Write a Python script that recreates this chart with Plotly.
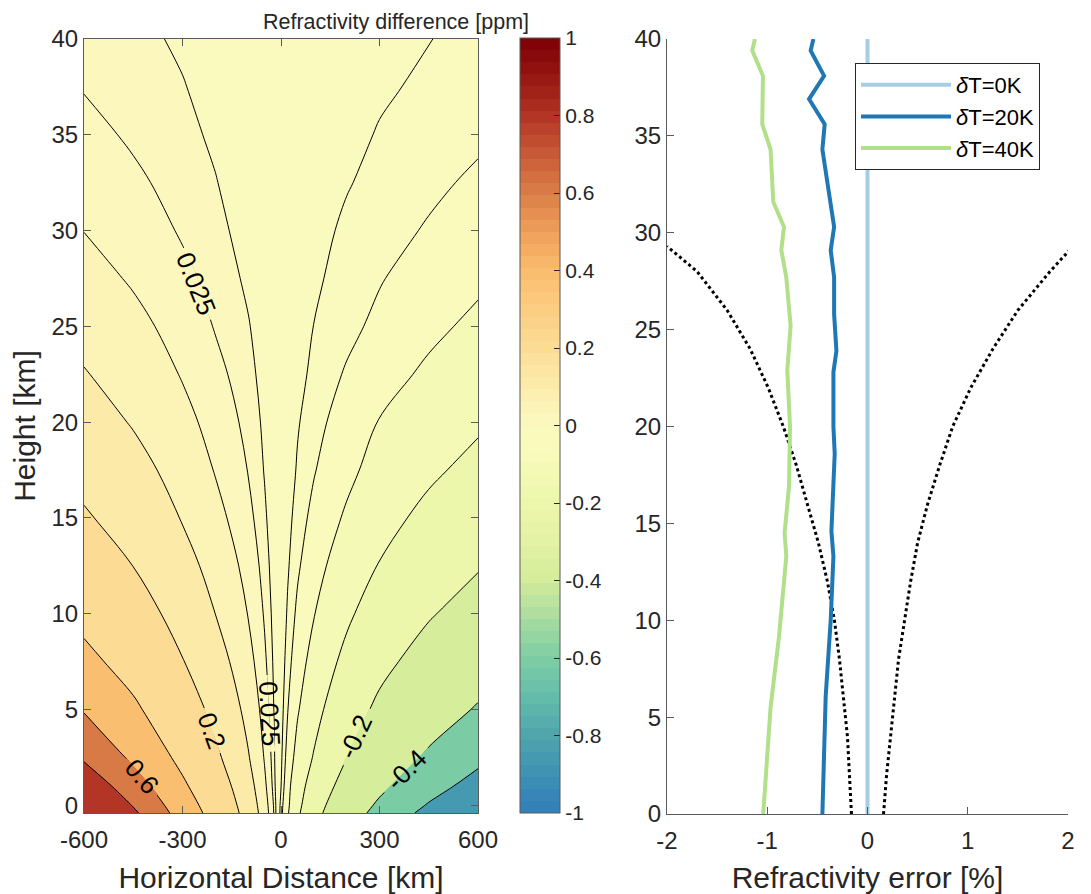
import math
import plotly.graph_objects as go

# ---------------- data: left panel (refractivity difference field, ppm) ----------------
X_KM = [-600, -450, -300, -200, -100, -50, -20, 0, 20, 50, 100, 200, 300, 450, 600]
H_KM = [-0.4, 0, 1, 2.5, 5, 7.5, 10, 12.5, 15, 17.5, 20, 22.5, 25, 27.5, 30, 32.5, 35, 37.5, 40]
DN_PPM = [
    [1.14, 0.834, 0.518, 0.327, 0.152, 0.0693, 0.0216, -0.0193, -0.0458, -0.088, -0.159, -0.309, -0.457, -0.657, -0.855],
    [1.08, 0.79, 0.491, 0.310, 0.144, 0.0656, 0.0205, -0.0181, -0.0429, -0.0824, -0.149, -0.289, -0.4275, -0.615, -0.80],
    [0.943, 0.690, 0.429, 0.271, 0.126, 0.0571, 0.0156, -0.0120, -0.0395, -0.075, -0.127, -0.245, -0.3625, -0.5215, -0.678],
    [0.774, 0.566, 0.352, 0.222, 0.1045, 0.0472, 0.0133, -0.0094, -0.0320, -0.0614, -0.1038, -0.1988, -0.294, -0.423, -0.55],
    [0.587, 0.430, 0.267, 0.1686, 0.0803, 0.0365, 0.0109, -0.0066, -0.0240, -0.0465, -0.0791, -0.1497, -0.2214, -0.3186, -0.414],
    [0.449, 0.3286, 0.2043, 0.129, 0.0622, 0.0285, 0.0091, -0.0046, -0.0183, -0.036, -0.0618, -0.1156, -0.171, -0.246, -0.320],
    [0.348, 0.2544, 0.1581, 0.0998, 0.0487, 0.0228, 0.0076, -0.0032, -0.0140, -0.0285, -0.0485, -0.0896, -0.1325, -0.1907, -0.248],
    [0.272, 0.199, 0.1237, 0.0781, 0.0386, 0.0182, 0.0063, -0.0023, -0.0108, -0.0222, -0.0380, -0.0694, -0.1026, -0.1476, -0.192],
    [0.212, 0.1548, 0.0962, 0.0608, 0.0303, 0.0145, 0.0053, -0.0015, -0.0083, -0.0175, -0.0300, -0.0542, -0.0802, -0.1153, -0.150],
    [0.167, 0.1225, 0.0761, 0.0481, 0.0243, 0.0117, 0.0044, -0.0010, -0.0064, -0.0137, -0.0237, -0.0422, -0.0624, -0.0898, -0.117],
    [0.132, 0.0953, 0.0601, 0.0388, 0.0196, 0.0101, 0.0037, -0.0007, -0.0050, -0.0114, -0.0188, -0.0345, -0.0512, -0.0715, -0.0917],
    [0.1034, 0.0753, 0.0477, 0.0304, 0.0161, 0.0084, 0.0034, -0.0002, -0.0036, -0.0084, -0.0155, -0.0267, -0.0386, -0.0554, -0.0722],
    [0.081, 0.0595, 0.0379, 0.0238, 0.0133, 0.0070, 0.0030, 0.0004, -0.0022, -0.0062, -0.0127, -0.0206, -0.0291, -0.0430, -0.0568],
    [0.0633, 0.0463, 0.0295, 0.0194, 0.0103, 0.0052, 0.0023, 0.0001, -0.0020, -0.0051, -0.0103, -0.0175, -0.0238, -0.0338, -0.0444],
    [0.0495, 0.036, 0.0230, 0.0158, 0.0080, 0.0039, 0.0015, -0.0002, -0.0018, -0.0042, -0.0083, -0.0148, -0.0194, -0.0265, -0.0347],
    [0.0389, 0.0284, 0.0188, 0.0130, 0.0068, 0.0036, 0.0017, 0.0004, -0.0009, -0.0029, -0.0058, -0.0116, -0.0162, -0.0217, -0.0278],
    [0.0306, 0.0224, 0.0154, 0.0107, 0.0058, 0.0034, 0.0019, 0.0010, 0.0000, -0.0015, -0.0039, -0.0089, -0.0134, -0.0177, -0.0222],
    [0.0240, 0.0184, 0.0130, 0.0092, 0.0053, 0.0033, 0.0021, 0.00135, 0.00055, -0.0007, -0.00265, -0.0066, -0.0106, -0.0148, -0.0187],
    [0.0189, 0.0151, 0.0110, 0.0079, 0.0048, 0.0032, 0.0023, 0.0017, 0.0011, 0.0001, -0.0014, -0.0045, -0.0076, -0.0122, -0.0158],
]
LEVELS = [-0.6, -0.4, -0.2, -0.1, -0.05, -0.025, -0.0125, 0.0125, 0.025, 0.05, 0.1, 0.2, 0.4, 0.6, 0.8]
# inline contour labels: text, level, x [km], height [km], angle [deg]
CONTOUR_LABELS = [
    ("0.025", 0.025, -259, 27.2, 68),
    ("0.025", 0.025, -36, 4.8, 87),
    ("0.2", 0.2, -210, 3.9, 70),
    ("0.6", 0.6, -422, 1.5, 49),
    ("-0.2", -0.2, 228, 3.6, -65),
    ("-0.4", -0.4, 381, 1.85, -45),
]
X_TICKS = [-600, -300, 0, 300, 600]
X_TICKTEXT = ["-600", "-300", "0", "300", "600"]
Y_TICKS = [0, 5, 10, 15, 20, 25, 30, 35, 40]
CB_TICKS = [-1, -0.8, -0.6, -0.4, -0.2, 0, 0.2, 0.4, 0.6, 0.8, 1]
CB_TICKTEXT = ["-1", "-0.8", "-0.6", "-0.4", "-0.2", "0", "0.2", "0.4", "0.6", "0.8", "1"]

# ---------------- data: right panel (refractivity error, %) ----------------
H_0K = [0, 40]
ERR_0K = [0, 0]
H_20K = [0, 6.1, 10, 13.3, 14.6, 18.6, 20, 22.8, 23.9, 25.8, 27.7, 29.1, 30.3, 34.3, 35.6, 36.9, 38.1, 39.4, 40]
ERR_20K = [-0.45, -0.417, -0.367, -0.34, -0.36, -0.327, -0.34, -0.34, -0.31, -0.333, -0.333, -0.367, -0.333, -0.45, -0.427, -0.583, -0.433, -0.567, -0.54]
H_40K = [0, 5.5, 9.15, 11.7, 13.3, 14.5, 16.9, 20, 22.9, 25.2, 27.7, 29.1, 30.3, 31.6, 34.3, 35.6, 38.1, 39.4, 40]
ERR_40K = [-1.04, -0.967, -0.883, -0.843, -0.81, -0.827, -0.783, -0.773, -0.8, -0.767, -0.81, -0.86, -0.833, -0.94, -0.967, -1.05, -1.043, -1.15, -1.123]
H_ENV = [0, 2, 4, 6, 8, 10, 12, 14, 16, 18, 20, 22, 24, 26, 28, 29.3]
ENV_LO = [-0.16, -0.18, -0.2, -0.24, -0.28, -0.33, -0.4, -0.49, -0.6, -0.71, -0.84, -0.99, -1.17, -1.4, -1.7, -2.0]
ENV_HI = [0.16, 0.19, 0.23, 0.27, 0.31, 0.37, 0.43, 0.5, 0.6, 0.72, 0.85, 1.03, 1.25, 1.5, 1.82, 2.05]
ERR_TICKS = [-2, -1, 0, 1, 2]
ERR_TICKTEXT = ["-2", "-1", "0", "1", "2"]

# ---------------- styles / layout (page pixels; the page body has an 8 px margin) ----------------
OFF = 8
W, H = 1091 - 2 * OFF, 894 - OFF
FONT = "Liberation Sans, Arial, Helvetica, sans-serif"
AX = "#262626"
FRAME = "#5a5a5a"
L_PX = (84, 478, 39, 813)      # left panel plot area: x0, x1, y_top, y_bottom (page pixels)
R_PX = (667, 1068, 39, 814)
X_RANGE = [-600, 600]
Y_RANGE = [-0.4, 40]


def fx(p):
    return (p - OFF) / W


def fy(p):
    return 1 - (p - OFF) / H


CMAP_ANCHORS = [
    (-1.0, (50, 125, 185)), (-0.9, (62, 145, 180)), (-0.8, (80, 165, 172)), (-0.7, (100, 188, 170)),
    (-0.6, (125, 205, 165)), (-0.5, (168, 220, 160)), (-0.4, (212, 236, 155)), (-0.3, (228, 242, 165)),
    (-0.2, (237, 247, 172)), (-0.1, (245, 250, 182)), (0.0, (252, 250, 192)), (0.1, (252, 236, 170)),
    (0.2, (252, 221, 150)), (0.3, (251, 205, 130)), (0.4, (250, 188, 110)), (0.5, (238, 160, 90)),
    (0.6, (218, 125, 72)), (0.7, (200, 90, 55)), (0.8, (178, 52, 36)), (0.9, (150, 22, 18)), (1.0, (125, 0, 5)),
]
NCOL = 64


def cmap(v):
    v = max(-1.0, min(1.0, v))
    for (a, ca), (b, cb) in zip(CMAP_ANCHORS[:-1], CMAP_ANCHORS[1:]):
        if a <= v <= b:
            t = (v - a) / (b - a)
            return tuple(round(ca[i] + t * (cb[i] - ca[i])) for i in range(3))
    return CMAP_ANCHORS[-1][1]


def qcolor(v):
    idx = int((v + 1) / 2 * NCOL)
    idx = max(0, min(NCOL - 1, idx))
    vc = -1 + (idx + 0.5) * 2 / NCOL
    r, g, b = cmap(vc)
    return f"rgb({r},{g},{b})"


colorscale = []
for i in range(NCOL):
    c = qcolor(-1 + (i + 0.5) * 2 / NCOL)
    colorscale.append([i / NCOL, c])
    colorscale.append([(i + 1) / NCOL, c])

fig = go.Figure()

# filled bands: each trace shades z > level (infeasible side of "<")
fig.add_trace(go.Contour(
    x=X_KM, y=H_KM, z=DN_PPM,
    contours=dict(type="constraint", operation="<", value=-5),
    fillcolor=qcolor(-0.86), line=dict(width=0, smoothing=1),
    showscale=False, showlegend=False, hoverinfo="skip", xaxis="x", yaxis="y",
))
for L in LEVELS:
    fig.add_trace(go.Contour(
        x=X_KM, y=H_KM, z=DN_PPM,
        contours=dict(type="constraint", operation="<", value=L),
        fillcolor=qcolor(L), line=dict(width=0, smoothing=1),
        showscale=False, showlegend=False, hoverinfo="skip", xaxis="x", yaxis="y",
    ))
# contour lines
for L in LEVELS:
    fig.add_trace(go.Contour(
        x=X_KM, y=H_KM, z=DN_PPM,
        contours=dict(coloring="none", start=L, end=L, size=1),
        line=dict(color="black", width=1, smoothing=1),
        showscale=False, showlegend=False, hoverinfo="skip", xaxis="x", yaxis="y",
    ))

# colorbar carrier (invisible marker)
fig.add_trace(go.Scatter(
    x=[0], y=[20], mode="markers", xaxis="x", yaxis="y",
    marker=dict(size=1, opacity=0, color=[0], colorscale=colorscale, cmin=-1, cmax=1, showscale=True,
                colorbar=dict(x=fx(520), xanchor="left", xpad=0, ypad=0,
                              y=fy(813), yanchor="bottom", len=(813 - 38) / H, lenmode="fraction",
                              thickness=40, thicknessmode="pixels",
                              outlinecolor=FRAME, outlinewidth=1,
                              tickvals=CB_TICKS, ticktext=CB_TICKTEXT, ticks="inside", ticklen=6,
                              tickcolor=AX, tickfont=dict(size=21, color=AX, family=FONT))),
    showlegend=False, hoverinfo="skip",
))

# right panel
fig.add_trace(go.Scatter(x=ENV_LO, y=H_ENV, mode="lines", line=dict(color="black", width=3, dash="dot"),
                         showlegend=False, xaxis="x2", yaxis="y2", hoverinfo="skip"))
fig.add_trace(go.Scatter(x=ENV_HI, y=H_ENV, mode="lines", line=dict(color="black", width=3, dash="dot"),
                         showlegend=False, xaxis="x2", yaxis="y2", hoverinfo="skip"))
fig.add_trace(go.Scatter(x=ERR_0K, y=H_0K, mode="lines", name="<i>δ</i>T=0K",
                         line=dict(color="#a6cee3", width=4), xaxis="x2", yaxis="y2"))
fig.add_trace(go.Scatter(x=ERR_20K, y=H_20K, mode="lines", name="<i>δ</i>T=20K",
                         line=dict(color="#1f78b4", width=4), xaxis="x2", yaxis="y2"))
fig.add_trace(go.Scatter(x=ERR_40K, y=H_40K, mode="lines", name="<i>δ</i>T=40K",
                         line=dict(color="#b2df8a", width=4), xaxis="x2", yaxis="y2"))

# inline contour labels: split gap patch (fill colour on each side of the line) + rotated text
kx = (L_PX[1] - L_PX[0]) / (X_RANGE[1] - X_RANGE[0])
ky = (L_PX[3] - L_PX[2]) / (Y_RANGE[1] - Y_RANGE[0])
LABEL_FONT = 26
shapes = []
annotations = []
for text, lev, cx, cy, ang in CONTOUR_LABELS:
    i = LEVELS.index(lev)
    prev_c = qcolor(LEVELS[i - 1]) if i > 0 else qcolor(-0.86)
    own_c = qcolor(lev)
    n_side = prev_c if lev > 0 else own_c
    o_side = own_c if lev > 0 else prev_c
    t = math.radians(ang)
    ux, uy = math.cos(t), math.sin(t)
    nx, ny = math.sin(t), -math.cos(t)
    a = 0.5 * 0.56 * LABEL_FONT * len(text) + 2
    b = 4.0

    def to_data(dx, dy):
        return cx + dx / kx, cy - dy / ky

    for sgn, col in ((1, n_side), (-1, o_side)):
        pts = [(-a * ux, -a * uy), (a * ux, a * uy),
               (a * ux + sgn * b * nx, a * uy + sgn * b * ny), (-a * ux + sgn * b * nx, -a * uy + sgn * b * ny)]
        dpts = [to_data(px, py) for px, py in pts]
        path = "M " + " L ".join(f"{x:.3f},{y:.4f}" for x, y in dpts) + " Z"
        shapes.append(dict(type="path", path=path, xref="x", yref="y", fillcolor=col,
                           line=dict(width=0), layer="above"))
    annotations.append(dict(text=text, x=cx, y=cy, xref="x", yref="y", showarrow=False, textangle=ang,
                            xanchor="center", yanchor="middle",
                            font=dict(size=LABEL_FONT, color="black", family=FONT)))

annotations.append(dict(text="Refractivity difference [ppm]", x=fx(396), y=1.0,
                        xref="paper", yref="paper", showarrow=False, xanchor="center", yanchor="top",
                        font=dict(size=21.5, color=AX, family=FONT)))

tickfont = dict(size=24, color=AX, family=FONT)
titlefont = dict(size=30, color=AX, family=FONT)
fig.update_layout(
    width=W, height=H, margin=dict(l=0, r=0, t=0, b=0),
    paper_bgcolor="white", plot_bgcolor="white",
    font=dict(family=FONT, color=AX),
    xaxis=dict(domain=[fx(L_PX[0]), fx(L_PX[1])], range=X_RANGE, tickvals=X_TICKS, ticktext=X_TICKTEXT,
               ticks="inside", ticklen=7, tickcolor=FRAME, showline=True, linecolor=FRAME, linewidth=1,
               mirror="ticks", showgrid=False, zeroline=False, tickfont=tickfont, automargin=False,
               ticklabelstandoff=5,
               title=dict(text="Horizontal Distance [km]", font=titlefont, standoff=16), anchor="y"),
    yaxis=dict(domain=[fy(L_PX[3]), fy(L_PX[2])], range=Y_RANGE, tickvals=Y_TICKS,
               ticks="inside", ticklen=7, tickcolor=FRAME, showline=True, linecolor=FRAME, linewidth=1,
               mirror="ticks", showgrid=False, zeroline=False, tickfont=tickfont, automargin=False,
               title=dict(text="Height [km]", font=titlefont, standoff=7), anchor="x"),
    xaxis2=dict(domain=[fx(R_PX[0]), fx(R_PX[1])], range=[-2, 2], tickvals=ERR_TICKS, ticktext=ERR_TICKTEXT,
                ticks="inside", ticklen=7, tickcolor=FRAME, showline=True, linecolor=FRAME, linewidth=1,
                showgrid=False, zeroline=False, tickfont=tickfont, automargin=False,
                ticklabelstandoff=5,
                title=dict(text="Refractivity error [%]", font=titlefont, standoff=16), anchor="y2"),
    yaxis2=dict(domain=[fy(R_PX[3]), fy(R_PX[2])], range=[0, 40], tickvals=Y_TICKS,
                ticks="inside", ticklen=7, tickcolor=FRAME, showline=True, linecolor=FRAME, linewidth=1,
                showgrid=False, zeroline=False, tickfont=tickfont, automargin=False, anchor="x2"),
    legend=dict(x=fx(855), y=fy(63), xanchor="left", yanchor="top",
                bgcolor="white", bordercolor=AX, borderwidth=1,
                font=dict(size=22, color="black", family=FONT), itemwidth=90, tracegroupgap=0),
    shapes=shapes,
    annotations=annotations,
)

fig.write_html("out.html", post_script="document.body.style.overflow='hidden';")
